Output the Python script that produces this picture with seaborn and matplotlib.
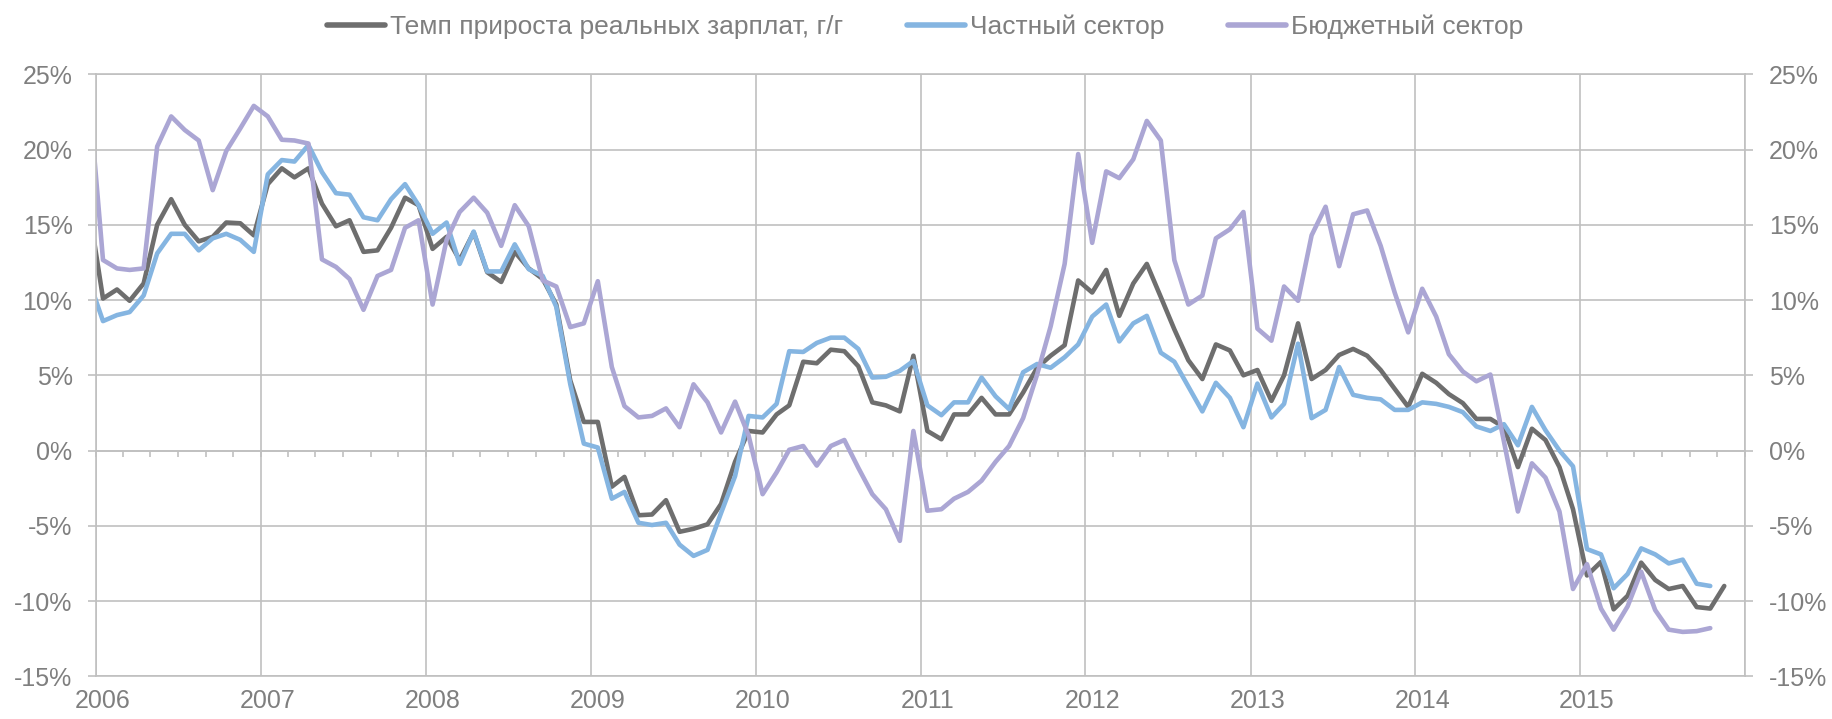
import numpy as np
import pandas as pd
import matplotlib
matplotlib.use("Agg")
import matplotlib.pyplot as plt
import matplotlib.dates as mdates
from matplotlib.ticker import FuncFormatter, NullFormatter
import seaborn as sns

sns.set_theme(style="white")
plt.rcParams["font.family"] = ["Liberation Sans", "DejaVu Sans"]

# Monthly data, % y/y, starting Dec 2005
start_month = "2005-12-01"

total_real_wages = [
    16.1,
    10.1, 10.7, 9.95, 11.1, 15.0, 16.7, 15.0, 13.9, 14.2, 15.15, 15.1, 14.3,
    17.7, 18.75, 18.15, 18.75, 16.4, 14.9, 15.3, 13.2, 13.3, 14.8, 16.8, 16.3,
    13.4, 14.2, 12.65, 14.5, 11.85, 11.2, 13.2, 12.1, 11.4, 9.7, 4.65, 1.9,
    1.9, -2.4, -1.75, -4.3, -4.25, -3.3, -5.4, -5.2, -4.9, -3.55, -0.75, 1.3,
    1.2, 2.4, 3.0, 5.9, 5.8, 6.7, 6.6, 5.6, 3.2, 3.0, 2.6, 6.3,
    1.3, 0.75, 2.4, 2.4, 3.5, 2.4, 2.4, 3.85, 5.5, 6.3, 7.0, 11.3,
    10.5, 12.0, 8.95, 11.1, 12.4, 10.2, 8.05, 6.0, 4.75, 7.05, 6.65, 5.0,
    5.35, 3.3, 5.0, 8.45, 4.75, 5.35, 6.35, 6.75, 6.3, 5.35, 4.1, 2.9,
    5.1, 4.5, 3.75, 3.15, 2.1, 2.1, 1.55, -1.1, 1.45, 0.7, -1.1, -3.9,
    -8.3, -7.4, -10.55, -9.65, -7.45, -8.6, -9.2, -9.0, -10.4, -10.5, -9.0,
]

private_sector = [
    11.3,
    8.6, 9.0, 9.2, 10.3, 13.1, 14.4, 14.4, 13.3, 14.1, 14.4, 14.0, 13.2,
    18.35, 19.3, 19.2, 20.3, 18.5, 17.1, 17.0, 15.5, 15.3, 16.7, 17.7, 16.3,
    14.4, 15.15, 12.4, 14.55, 11.9, 11.9, 13.7, 12.05, 11.6, 9.55, 4.4, 0.46,
    0.2, -3.2, -2.75, -4.8, -4.95, -4.8, -6.25, -7.0, -6.6, -4.15, -1.7, 2.3,
    2.2, 3.1, 6.6, 6.55, 7.15, 7.5, 7.5, 6.75, 4.85, 4.9, 5.3, 5.95,
    3.0, 2.35, 3.2, 3.2, 4.85, 3.6, 2.75, 5.2, 5.75, 5.5, 6.2, 7.05,
    8.9, 9.7, 7.25, 8.45, 8.95, 6.5, 5.9, 4.25, 2.6, 4.5, 3.5, 1.55,
    4.45, 2.2, 3.1, 7.1, 2.15, 2.7, 5.55, 3.7, 3.5, 3.4, 2.7, 2.7,
    3.2, 3.1, 2.9, 2.55, 1.6, 1.3, 1.75, 0.35, 2.9, 1.35, 0.0, -1.05,
    -6.55, -6.9, -9.15, -8.2, -6.5, -6.9, -7.5, -7.25, -8.85, -9.0,
]

public_sector = [
    23.7,
    12.66, 12.1, 12.0, 12.1, 20.2, 22.2, 21.3, 20.6, 17.3, 19.9, 21.4, 22.9,
    22.2, 20.65, 20.6, 20.4, 12.7, 12.2, 11.4, 9.35, 11.6, 12.0, 14.8, 15.3,
    9.7, 14.0, 15.85, 16.8, 15.8, 13.6, 16.3, 14.9, 11.3, 10.9, 8.2, 8.45,
    11.25, 5.55, 2.95, 2.2, 2.3, 2.8, 1.55, 4.4, 3.2, 1.2, 3.25, 1.0,
    -2.9, -1.45, 0.05, 0.3, -1.0, 0.3, 0.7, -1.15, -2.9, -3.9, -6.0, 1.3,
    -4.0, -3.9, -3.2, -2.75, -2.0, -0.75, 0.3, 2.15, 5.05, 8.25, 12.4, 19.7,
    13.8, 18.55, 18.1, 19.35, 21.9, 20.6, 12.65, 9.7, 10.3, 14.1, 14.7, 15.85,
    8.1, 7.3, 10.9, 9.95, 14.3, 16.2, 12.25, 15.7, 15.95, 13.6, 10.5, 7.85,
    10.75, 8.9, 6.4, 5.25, 4.6, 5.05, 0.6, -4.05, -0.85, -1.8, -4.05, -9.2,
    -7.55, -10.5, -11.9, -10.35, -8.05, -10.6, -11.9, -12.05, -12.0, -11.8,
]

series_names = ["Темп прироста реальных зарплат, г/г", "Частный сектор", "Бюджетный сектор"]
series_colors = ["#6e6e6e", "#85b5e1", "#aba6d4"]
year_labels = list(range(2006, 2016))
y_ticks = list(range(-15, 30, 5))

# long-form table for seaborn, points placed mid-month
frames = []
for name, vals in zip(series_names, [total_real_wages, private_sector, public_sector]):
    dates = pd.date_range(start_month, periods=len(vals), freq="MS") + pd.Timedelta(days=15)
    frames.append(pd.DataFrame({"date": dates, "value": vals, "series": name}))
df = pd.concat(frames, ignore_index=True)

grid_c = "#c0c0c0"
text_c = "#7f7f7f"

fig = plt.figure(figsize=(18.33, 7.19), dpi=100)
ax = fig.add_axes([0.0525, 0.0594, 0.8995, 0.8373])

sns.lineplot(data=df, x="date", y="value", hue="series", hue_order=series_names,
             palette=series_colors, linewidth=3.3, estimator=None, sort=False, ax=ax)

ax.set_xlim(pd.Timestamp("2006-01-01"), pd.Timestamp("2016-01-01"))
ax.set_ylim(-15, 25)
ax.set_xlabel("")
ax.set_ylabel("")

# year gridlines at year boundaries, labels centred on January points
ax.xaxis.set_major_locator(mdates.YearLocator())
ax.xaxis.set_major_formatter(NullFormatter())
ax.set_xticks([pd.Timestamp(f"{y}-01-16") for y in year_labels], minor=True)
ax.set_xticklabels([str(y) for y in year_labels], minor=True)
ax.tick_params(axis="x", which="both", length=0)
ax.tick_params(axis="x", which="minor", labelsize=18, labelcolor=text_c, pad=9)

ax.set_yticks(y_ticks)
ax.yaxis.set_major_formatter(FuncFormatter(lambda v, p: f"{int(v)}%"))
ax.tick_params(axis="y", which="major", left=True, right=True, labelleft=True, labelright=True,
               length=6, width=1.2, color=grid_c, labelsize=18, labelcolor=text_c, pad=11)

ax.grid(True, which="major", axis="both", color=grid_c, linewidth=1.2)
ax.set_axisbelow(True)
for sp in ax.spines.values():
    sp.set_visible(True)
    sp.set_color(grid_c)
    sp.set_linewidth(1.2)

# small tick marks along the zero line, every two months
zero_axis = ax.secondary_xaxis(15 / 40)
zero_axis.xaxis.set_major_locator(mdates.MonthLocator(bymonth=[1, 3, 5, 7, 9, 11], bymonthday=1))
zero_axis.xaxis.set_major_formatter(NullFormatter())
zero_axis.tick_params(axis="x", direction="out", length=4, width=1.2, color=grid_c)
zero_axis.spines["bottom"].set_color(grid_c)
zero_axis.spines["bottom"].set_linewidth(1.2)

handles, labels = ax.get_legend_handles_labels()
ax.get_legend().remove()
for h in handles:
    h.set_linewidth(4)
leg = fig.legend(handles, labels, loc="center", bbox_to_anchor=(0.5047, 0.963), ncol=3,
                 frameon=False, fontsize=19, handlelength=2.2, handletextpad=0.2,
                 columnspacing=2.4)
for t in leg.get_texts():
    t.set_color(text_c)

fig.savefig("out.png", dpi=100)
